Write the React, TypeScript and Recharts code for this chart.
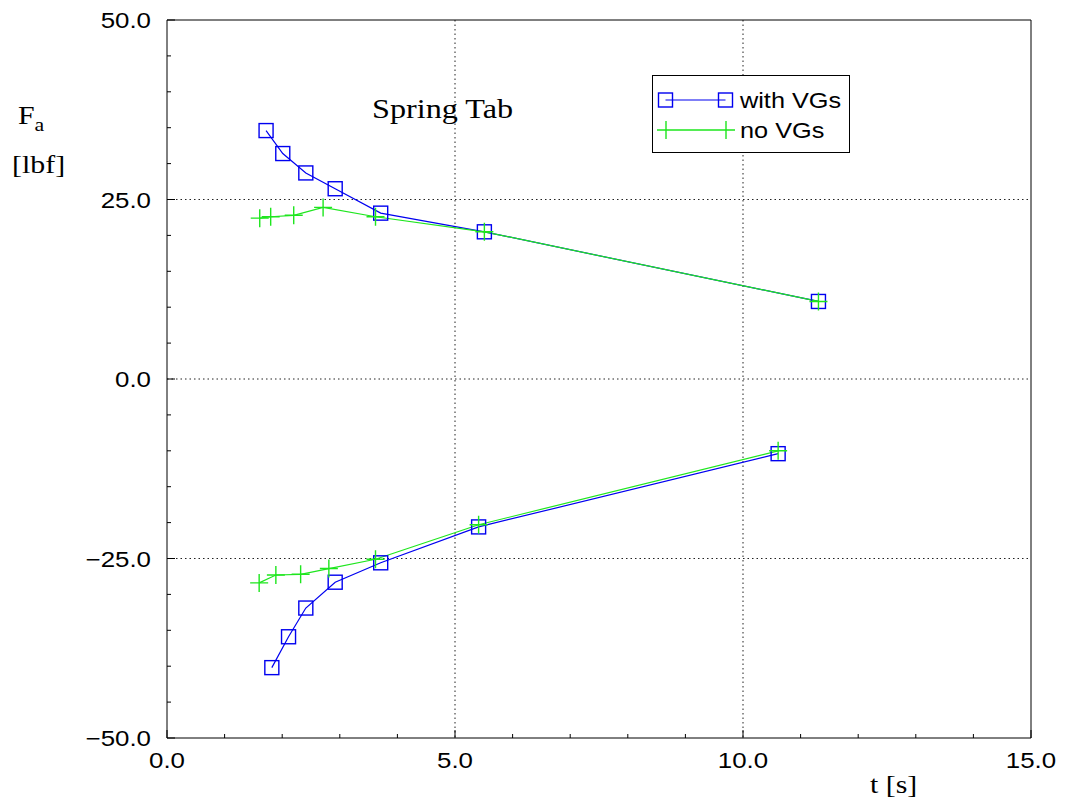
import { CartesianGrid, Legend, Line, LineChart, XAxis, YAxis } from "recharts"

const BLUE = "#0000f0"
const GREEN = "#1ee61e"
const SANS = "'Liberation Sans', Arial, Helvetica, sans-serif"
const SERIF = "'Liberation Serif', 'Times New Roman', serif"
const STRETCH = 1.15

// with VGs, push (upper) and pull (lower) branches: t [s], Fa [lbf]
const withVgsUpperT = [1.72, 2.01, 2.41, 2.92, 3.71, 5.51, 11.31]
const withVgsUpperF = [34.6, 31.4, 28.7, 26.5, 23.1, 20.5, 10.8]
const withVgsLowerT = [1.82, 2.11, 2.41, 2.92, 3.71, 5.41, 10.61]
const withVgsLowerF = [-40.2, -35.9, -31.9, -28.3, -25.6, -20.6, -10.4]

// no VGs
const noVgsUpperT = [1.61, 1.8, 2.2, 2.71, 3.62, 5.51, 11.31]
const noVgsUpperF = [22.4, 22.6, 22.8, 23.9, 22.6, 20.5, 10.8]
const noVgsLowerT = [1.6, 1.89, 2.32, 2.81, 3.62, 5.41, 10.61]
const noVgsLowerF = [-28.4, -27.3, -27.2, -26.4, -25.1, -20.3, -10.0]

const xTicks = [0, 1, 2, 3, 4, 5, 6, 7, 8, 9, 10, 11, 12, 13, 14, 15]
const xMajor = [0, 5, 10, 15]
const yTicks = [-50, -45, -40, -35, -30, -25, -20, -15, -10, -5, 0, 5, 10, 15, 20, 25, 30, 35, 40, 45, 50]
const yMajor = [-50, -25, 0, 25, 50]

const toPoints = (t: number[], f: number[]) => t.map((x, i) => ({ t: x, f: f[i] }))

const fmt = (v: number) => (v < 0 ? "\u2212" + Math.abs(v).toFixed(1) : v.toFixed(1))

const tickLen = (major: boolean) => (major ? 8 : 4)

function BottomTick(props: any) {
  const { x, y, payload } = props
  const major = xMajor.includes(payload.value)
  return (
    <g>
      <line x1={x} x2={x} y1={y} y2={y - tickLen(major)} stroke="#000" />
      {major && (
        <text transform={`translate(${x} ${y + 30}) scale(${STRETCH} 1)`} textAnchor="middle" fontFamily={SANS} fontSize={22.5} fill="#000">
          {fmt(payload.value)}
        </text>
      )}
    </g>
  )
}

function TopTick(props: any) {
  const { x, y, payload } = props
  const major = xMajor.includes(payload.value)
  return <line x1={x} x2={x} y1={y} y2={y + tickLen(major)} stroke="#000" />
}

function LeftTick(props: any) {
  const { x, y, payload } = props
  const major = yMajor.includes(payload.value)
  return (
    <g>
      <line x1={x} x2={x + tickLen(major)} y1={y} y2={y} stroke="#000" />
      {major && (
        <text transform={`translate(${x - 16} ${y + 8}) scale(${STRETCH} 1)`} textAnchor="end" fontFamily={SANS} fontSize={22.5} fill="#000">
          {fmt(payload.value)}
        </text>
      )}
    </g>
  )
}

function RightTick(props: any) {
  const { x, y, payload } = props
  const major = yMajor.includes(payload.value)
  return <line x1={x} x2={x - tickLen(major)} y1={y} y2={y} stroke="#000" />
}

const squareDot = (props: any) => {
  const { cx, cy, index } = props
  return <rect key={`sq-${index}`} x={cx - 7} y={cy - 7} width={14} height={14} fill="none" stroke={BLUE} strokeWidth={1.4} />
}

const crossDot = (props: any) => {
  const { cx, cy, index } = props
  return (
    <path key={`cr-${index}`} d={`M${cx - 9},${cy}H${cx + 9}M${cx},${cy - 9}V${cy + 9}`} stroke={GREEN} strokeWidth={1.4} fill="none" />
  )
}

function KeyBox() {
  return (
    <svg width={198} height={78} style={{ display: "block" }}>
      <rect x={0.5} y={0.5} width={197} height={77} fill="#fff" stroke="#000" />
      <line x1={13.5} x2={73.5} y1={25} y2={25} stroke={BLUE} strokeWidth={1.2} />
      <rect x={6.5} y={18} width={14} height={14} fill="none" stroke={BLUE} strokeWidth={1.4} />
      <rect x={66.5} y={18} width={14} height={14} fill="none" stroke={BLUE} strokeWidth={1.4} />
      <text transform={`translate(88 33) scale(${STRETCH} 1)`} fontFamily={SANS} fontSize={22} fill="#000">
        with VGs
      </text>
      <path d="M5,55H83M14,46V64M74,46V64" stroke={GREEN} strokeWidth={1.4} fill="none" />
      <text transform={`translate(88 63) scale(${STRETCH} 1)`} fontFamily={SANS} fontSize={22} fill="#000">
        no VGs
      </text>
    </svg>
  )
}

export default function App() {
  return (
    <div style={{ position: "absolute", left: 0, top: 0, width: 1068, height: 809, background: "#fff" }}>
      <LineChart width={1068} height={809} margin={{ top: 19, right: 36, bottom: 70, left: 166 }}>
        <CartesianGrid
          horizontalValues={[-25, 0, 25]}
          verticalValues={[5, 10]}
          stroke="#222"
          strokeDasharray="1.5 3"
        />
        <XAxis
          dataKey="t"
          type="number"
          domain={[0, 15]}
          ticks={xTicks}
          interval={0}
          height={1}
          tickSize={0}
          tickMargin={0}
          tickLine={false}
          axisLine={{ stroke: "#000" }}
          tick={<BottomTick />}
          allowDataOverflow
        />
        <XAxis
          xAxisId="top"
          orientation="top"
          type="number"
          domain={[0, 15]}
          ticks={xTicks}
          interval={0}
          height={1}
          tickSize={0}
          tickMargin={0}
          tickLine={false}
          axisLine={{ stroke: "#000" }}
          tick={<TopTick />}
        />
        <YAxis
          type="number"
          domain={[-50, 50]}
          ticks={yTicks}
          interval={0}
          width={1}
          tickSize={0}
          tickMargin={0}
          tickLine={false}
          axisLine={{ stroke: "#000" }}
          tick={<LeftTick />}
          allowDataOverflow
        />
        <YAxis
          yAxisId="right"
          orientation="right"
          type="number"
          domain={[-50, 50]}
          ticks={yTicks}
          interval={0}
          width={1}
          tickSize={0}
          tickMargin={0}
          tickLine={false}
          axisLine={{ stroke: "#000" }}
          tick={<RightTick />}
        />
        <Line data={toPoints(withVgsUpperT, withVgsUpperF)} dataKey="f" stroke={BLUE} strokeWidth={1.2} dot={squareDot} isAnimationActive={false} />
        <Line data={toPoints(withVgsLowerT, withVgsLowerF)} dataKey="f" stroke={BLUE} strokeWidth={1.2} dot={squareDot} isAnimationActive={false} />
        <Line data={toPoints(noVgsUpperT, noVgsUpperF)} dataKey="f" stroke={GREEN} strokeWidth={1.2} dot={crossDot} isAnimationActive={false} />
        <Line data={toPoints(noVgsLowerT, noVgsLowerF)} dataKey="f" stroke={GREEN} strokeWidth={1.2} dot={crossDot} isAnimationActive={false} />
        <Legend
          layout="horizontal"
          verticalAlign="middle"
          align="center"
          wrapperStyle={{ left: 652, top: 75, width: 198, height: 78 }}
          content={() => <KeyBox />}
        />
        <g>
          <text transform={`translate(372 118) scale(${STRETCH} 1)`} fontFamily={SERIF} fontSize={28} fill="#000">
            Spring Tab
          </text>
          <text transform={`translate(18 124) scale(${STRETCH} 1)`} fontFamily={SERIF} fontSize={26} fill="#000">
            F<tspan dy={7} fontSize={19}>a</tspan>
          </text>
          <text transform={`translate(12 173) scale(${STRETCH} 1)`} fontFamily={SERIF} fontSize={26} fill="#000">
            [lbf]
          </text>
          <text transform={`translate(870 793) scale(${STRETCH} 1)`} fontFamily={SERIF} fontSize={26} fill="#000">
            t [s]
          </text>
        </g>
      </LineChart>
    </div>
  )
}
